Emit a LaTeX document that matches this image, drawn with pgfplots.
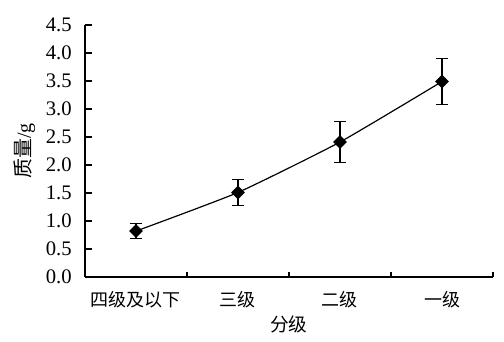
\documentclass[border=0pt]{standalone}
\usepackage{fontspec}
\setmainfont{Liberation Serif}
\newfontfamily\cjk{Noto Sans CJK SC}
\usepackage{pgfplots}
\pgfplotsset{compat=1.18}
\begin{document}
\begin{tikzpicture}
\begin{axis}[
  scale only axis,
  width=306pt, height=189pt,
  xmin=-0.5, xmax=3.5,
  ymin=0, ymax=4.5,
  axis x line*=bottom, axis y line*=left,
  axis line style={line width=0.8pt, -},
  ytick={0,0.5,...,4.5},
  xtick={0,1,2,3},
  xticklabels={{\cjk 四级及以下},{\cjk 三级},{\cjk 二级},{\cjk 一级}},
  minor xtick={-0.5,0.5,1.5,2.5,3.5},
  major x tick style={draw=none},
  minor x tick style={line width=0.8pt, black},
  minor tick length=4pt,
  major y tick style={line width=0.8pt, black},
  major tick length=5.5pt,
  tick align=inside,
  /pgf/number format/.cd, fixed, fixed zerofill, precision=1, assume math mode=true,
  /pgfplots/.cd,
  yticklabel style={font=\fontsize{15.5}{15.5}\selectfont, xshift=-6.5pt},
  xticklabel style={font=\fontsize{13.5}{14}\selectfont, yshift=-7pt},
  xlabel={\cjk 分级},
  xlabel style={font=\fontsize{14}{14}\selectfont, yshift=1pt},
  ylabel={{\cjk 质量}/g},
  ylabel style={font=\fontsize{15}{15}\selectfont, yshift=1pt},
  clip=false,
]
\addplot[black, line width=0.9pt, smooth, tension=0.3,
  mark=square*, mark size=3.2pt, mark options={rotate=45, solid},
  error bars/.cd, y dir=both, y explicit,
  error bar style={line width=0.8pt, black},
  error mark options={rotate=90, mark size=4.6pt, line width=0.8pt, black}]
coordinates {
  (0,0.82) +- (0,0.14)
  (1,1.51) +- (0,0.225)
  (2,2.41) +- (0,0.36)
  (3,3.49) +- (0,0.405)
};
\end{axis}
\pgfresetboundingbox
\path (-63.75pt,-48.75pt) rectangle (314.25pt,207.75pt);
\end{tikzpicture}
\end{document}
